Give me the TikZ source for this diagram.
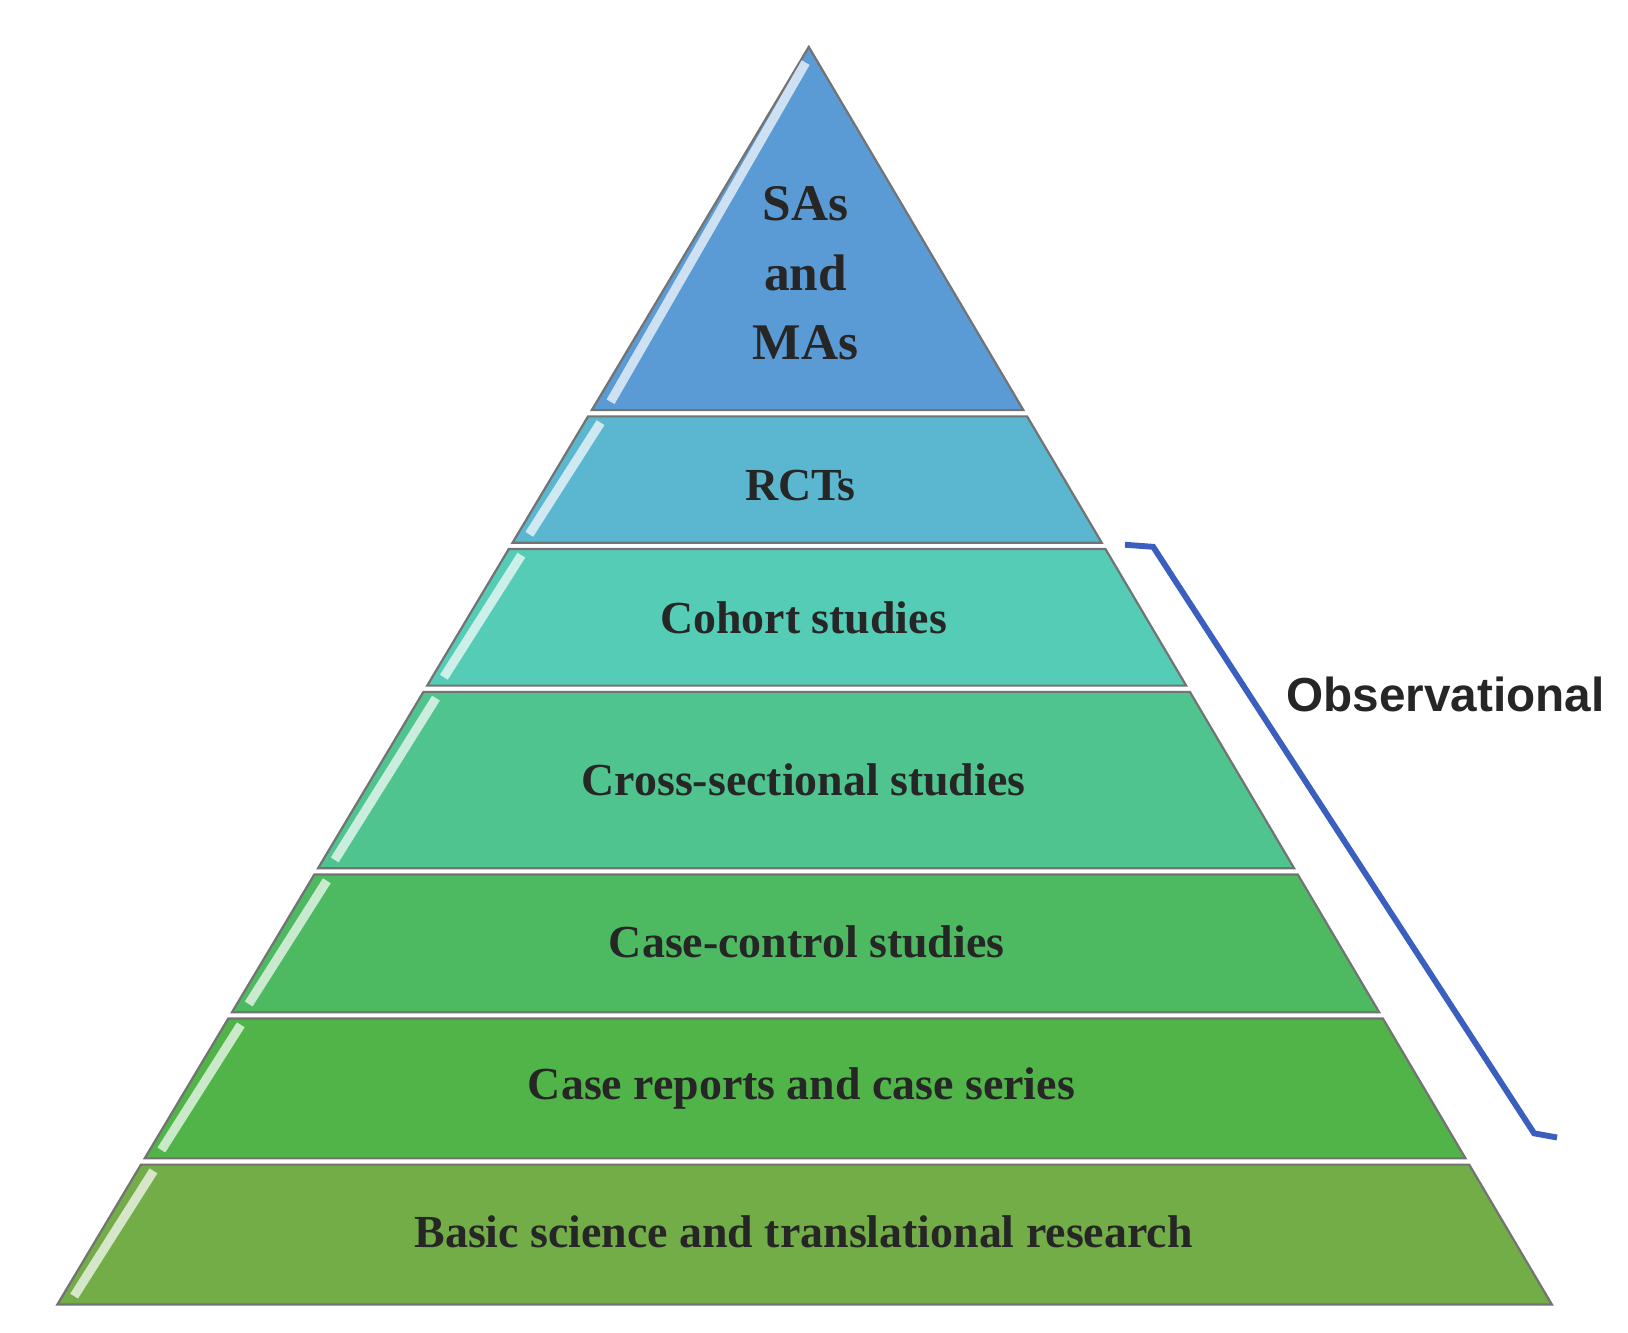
\documentclass[tikz,border=0pt]{standalone}
\usepackage{fontspec}
\setmainfont{Liberation Serif}
\newfontfamily\sansf{Liberation Sans}
\begin{document}
\begin{tikzpicture}[x=0.01cm,y=-0.01cm,
  lbl/.style={font=\fontsize{12.5}{15}\selectfont\bfseries, text=black!85, align=center, inner sep=0pt},
  bandline/.style={draw=black!55, line width=0.6pt}]
\useasboundingbox (0,0) rectangle (1560,1277);
\newcommand{\lx}[1]{(775-0.5975*(#1-45))}
\newcommand{\rx}[1]{(775+0.5909*(#1-45))}
\newcommand{\band}[3]{%
  \fill[#3,bandline] ({\lx{#1}},#1) -- ({\rx{#1}},#1) -- ({\rx{#2}},#2) -- ({\lx{#2}},#2) -- cycle;
  \draw[white!70!#3, line width=2.5pt] ({\lx{#1}+12},{#1+6}) -- ({\lx{#2}+16},{#2-8});}
\definecolor{c1}{HTML}{5B9BD5}
\definecolor{c2}{HTML}{5AB7CF}
\definecolor{c3}{HTML}{55CCB6}
\definecolor{c4}{HTML}{50C48E}
\definecolor{c5}{HTML}{4DBA62}
\definecolor{c6}{HTML}{50B448}
\definecolor{c7}{HTML}{72AD48}
\fill[c1,bandline] (775,45) -- ({\rx{393}},393) -- ({\lx{393}},393) -- cycle;
\draw[white!70!c1, line width=2.5pt] (772,60) -- ({\lx{393}+18},385);
\band{399}{520}{c2}
\band{526}{657}{c3}
\band{663}{832}{c4}
\band{838}{970}{c5}
\band{976}{1110}{c6}
\band{1116}{1250}{c7}
\node[lbl, font=\fontsize{14}{17}\selectfont\bfseries] (sa) at (772,262) {SAs\\[2pt]and\\[2pt]MAs};
\node[lbl] (rct) at (767,465) {RCTs};
\node[lbl] (coh) at (770,592) {Cohort studies};
\node[lbl] (cross) at (770,747) {Cross-sectional studies};
\node[lbl] (cc) at (773,903) {Case-control studies};
\node[lbl] (cr) at (768,1043) {Case reports and case series};
\node[lbl] (bs) at (770,1180) {Basic science and translational research};
\draw[color={rgb,255:red,58;green,95;blue,190}, line width=1.6pt]
  (1078,522) -- (1105,524) -- (1470,1086) -- (1492,1090);
\node[font=\sansf\bfseries\fontsize{13}{16}\selectfont, text=black!85] (obs) at (1385,665) {Observational};
\end{tikzpicture}
\end{document}
